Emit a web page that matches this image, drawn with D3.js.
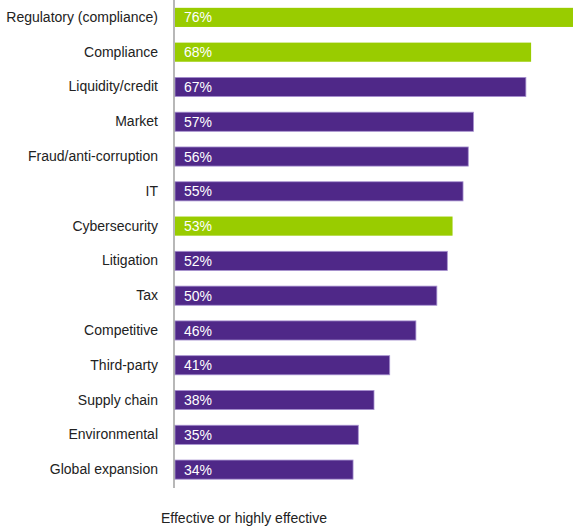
<!DOCTYPE html>
<html>
<head>
<meta charset="utf-8">
<script src="https://cdn.jsdelivr.net/npm/d3@7"></script>
<style>
  body { margin: 0; background: #fff; }
  svg { display: block; font-family: 'Liberation Sans', Arial, sans-serif; }
</style>
</head>
<body>
<div class="chart"></div>
<script>
const categories = ['Regulatory (compliance)', 'Compliance', 'Liquidity/credit', 'Market',
  'Fraud/anti-corruption', 'IT', 'Cybersecurity', 'Litigation', 'Tax', 'Competitive',
  'Third-party', 'Supply chain', 'Environmental', 'Global expansion'];
const values = [76, 68, 67, 57, 56, 55, 53, 52, 50, 46, 41, 38, 35, 34];
const highlighted = ['Regulatory (compliance)', 'Compliance', 'Cybersecurity'];
const axisTitle = 'Effective or highly effective';

const width = 573;
const height = 529;
const left = 175;

const svg = d3.select('.chart')
  .append('svg')
  .attr('width', width)
  .attr('height', height);

const x = d3.scaleLinear()
  .domain([0, 76])
  .range([left, 573]);

const y = d3.scaleBand()
  .domain(categories)
  .range([0, 487])
  .paddingInner(0.45)
  .paddingOuter(0.225);

const rows = categories.map((c, i) => ({ name: c, value: values[i] }));

svg.append('g')
  .selectAll('rect')
  .data(rows)
  .enter()
  .append('rect')
  .attr('x', x(0))
  .attr('y', d => y(d.name))
  .attr('width', d => x(d.value) - x(0))
  .attr('height', y.bandwidth())
  .attr('fill', d => highlighted.includes(d.name) ? '#99cc00' : '#4f2888')
  .attr('stroke', d => highlighted.includes(d.name) ? 'none' : '#a690cf')
  .attr('stroke-width', 0.8);

// percent labels inside bars
svg.append('g')
  .selectAll('text')
  .data(rows)
  .enter()
  .append('text')
  .attr('x', x(0) + 9)
  .attr('y', d => y(d.name) + y.bandwidth() / 2)
  .attr('dy', '0.36em')
  .attr('font-size', 14)
  .attr('fill', '#fff')
  .text(d => d.value + '%');

// category axis
const yAxis = d3.axisLeft(y).tickSize(0).tickPadding(16);
const gAxis = svg.append('g')
  .attr('transform', `translate(${left - 1},0)`)
  .call(yAxis);
gAxis.select('.domain')
  .attr('d', 'M0,0V488')
  .attr('stroke', '#888')
  .attr('stroke-width', 1.2);
gAxis.selectAll('text')
  .attr('font-size', 14)
  .attr('font-family', "'Liberation Sans', Arial, sans-serif")
  .attr('fill', '#222');

svg.append('text')
  .attr('x', 244)
  .attr('y', 523)
  .attr('text-anchor', 'middle')
  .attr('font-size', 14)
  .attr('fill', '#222')
  .text(axisTitle);
</script>
</body>
</html>
